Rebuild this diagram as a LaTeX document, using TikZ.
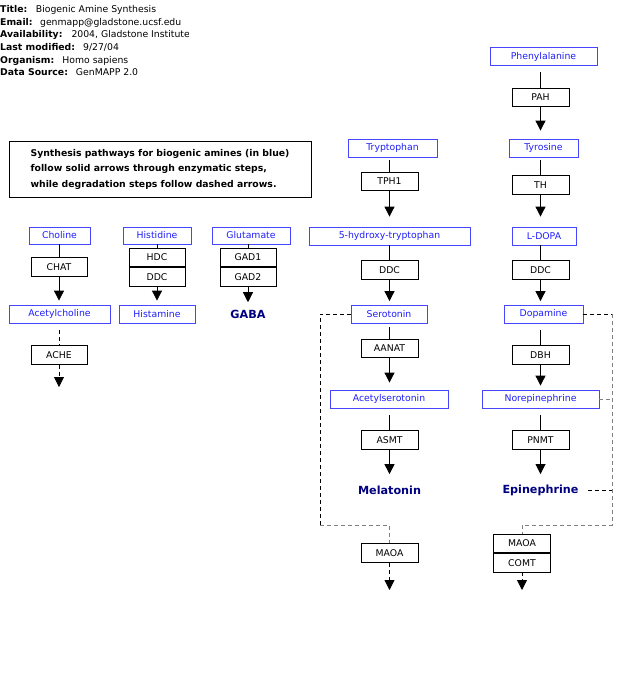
\documentclass[tikz,border=0pt]{standalone}
\usepackage{fontspec}
\setmainfont{DejaVu Sans}
\usepackage{xcolor}
\usetikzlibrary{arrows.meta,calc}
\definecolor{metblue}{RGB}{30,30,250}
\definecolor{metedge}{RGB}{70,70,255}
\definecolor{navylbl}{RGB}{0,0,128}

\begin{document}
\begin{tikzpicture}[
  x=1pt, y=-1pt,
  font=\fontsize{9.3}{11}\selectfont,
  metab/.style={draw=metedge, text=metblue, line width=0.8pt, inner sep=0pt, minimum height=18pt},
  gene/.style={draw, line width=0.8pt, inner sep=0pt, minimum width=57pt, minimum height=18.5pt},
  final/.style={text=navylbl, font=\bfseries\fontsize{11.2}{13}\selectfont},
  link/.style={line width=0.8pt},
  arrow/.style={-{Triangle[width=10pt,length=10pt]}, line width=0.8pt},
  degr/.style={line width=0.8pt, dash pattern=on 4pt off 3pt}
]
\useasboundingbox (0,0) rectangle (626,697);

% header
\begin{scope}
\clip (0,0) rectangle (188,85);
\node[anchor=north west, inner sep=0pt, align=left, font=\fontsize{9.3}{12.6}\selectfont] (meta) at (0,5.5)
  {\textbf{Title:}\hspace{8.5pt}Biogenic Amine Synthesis\\
   \textbf{Email:}\hspace{7.5pt}genmapp@gladstone.ucsf.edu\\
   \textbf{Availability:}\hspace{9pt}2004, Gladstone Institute\\
   \textbf{Last modified:}\hspace{8pt}9/27/04\\
   \textbf{Organism:}\hspace{8pt}Homo sapiens\\
   \textbf{Data Source:}\hspace{8pt}GenMAPP 2.0};
\end{scope}

\node[draw, line width=0.8pt, minimum width=302pt, minimum height=56pt, align=left,
  font=\bfseries\fontsize{9.3}{15.5}\selectfont] (note) at (160,169)
  {Synthesis pathways for biogenic amines (in blue)\\
   follow solid arrows through enzymatic steps,\\
   while degradation steps follow dashed arrows.};

% catecholamines
\node[metab, minimum width=107pt] (phe) at (543.5,56.5) {Phenylalanine};
\node[gene] (pah) at (540.5,97.5) {PAH};
\node[metab, minimum width=69pt] (tyr) at (543.5,148) {Tyrosine};
\node[gene] (th) at (540.5,185) {TH};
\node[metab, minimum width=64pt] (ldopa) at (544,236) {L-DOPA};
\node[gene] (ddcb) at (540.5,270) {DDC};
\node[metab, minimum width=79pt] (dopa) at (543.5,314) {Dopamine};
\node[gene] (dbh) at (540.5,355) {DBH};
\node[metab, minimum width=117pt] (nore) at (540.5,399) {Norepinephrine};
\node[gene] (pnmt) at (540.5,440) {PNMT};
\node[final] (epi) at (540.5,490) {Epinephrine};
\node[gene] (maoab) at (522,543.5) {MAOA};
\node[gene, anchor=north] (comt) at (maoab.south) {COMT};

% indolamines
\node[metab, minimum width=89pt] (trp) at (392.5,148) {Tryptophan};
\node[gene] (tph) at (389.5,181.5) {TPH1};
\node[metab, minimum width=161pt] (htp) at (389.5,236) {5-hydroxy-tryptophan};
\node[gene] (ddca) at (389.5,270) {DDC};
\node[metab, minimum width=76pt] (sero) at (389,314) {Serotonin};
\node[gene] (aanat) at (389.5,348.5) {AANAT};
\node[metab, minimum width=118pt] (acser) at (389,399) {Acetylserotonin};
\node[gene] (asmt) at (389.5,440) {ASMT};
\node[final] (mel) at (389.5,490) {Melatonin};
\node[gene] (maoaa) at (389.5,553) {MAOA};

% choline, histidine, glutamate
\node[metab, minimum width=61pt, minimum height=17pt] (cho) at (59.5,235.5) {Choline};
\node[gene, minimum width=56pt] (chat) at (59,267) {CHAT};
\node[metab, minimum width=101pt] (ach) at (59.5,314) {Acetylcholine};
\node[gene, minimum width=56pt] (ache) at (59,355) {ACHE};
\node[metab, minimum width=68pt, minimum height=17pt] (his) at (157,235.5) {Histidine};
\node[gene, minimum width=56pt] (hdc) at (157,257.5) {HDC};
\node[gene, minimum width=56pt, anchor=north] (ddch) at (hdc.south) {DDC};
\node[metab, minimum width=76pt] (hista) at (157,314) {Histamine};
\node[metab, minimum width=78pt, minimum height=17pt] (glu) at (251,235.5) {Glutamate};
\node[gene, minimum width=56pt] (gad1) at (248,257.5) {GAD1};
\node[gene, minimum width=56pt, anchor=north] (gad2) at (gad1.south) {GAD2};
\node[final] (gaba) at (248,314) {GABA};

% synthesis steps
\foreach \m/\g/\s in {phe/pah/6pt, tyr/th/3pt, ldopa/ddcb/0pt, dopa/dbh/7pt, nore/pnmt/7pt,
    trp/tph/3pt, htp/ddca/0pt, sero/aanat/4pt, acser/asmt/7pt, cho/chat/0pt, his/hdc/0pt, glu/gad1/0pt}
  \draw[link, shorten <=\s] (\m.south -| \g) -- (\g);
\foreach \g/\m/\s in {pah/tyr/8pt, th/ldopa/10pt, ddcb/dopa/3.5pt, dbh/nore/4pt, pnmt/epi/7pt,
    tph/htp/10pt, ddca/sero/3.5pt, aanat/acser/7pt, asmt/mel/8pt, chat/ach/4pt, ddch/hista/4pt, gad2/gaba/4pt}
  \draw[arrow, shorten >=\s] (\g) -- (\g |- \m.north);

% degradation steps
\coordinate (achex) at (59,387);
\coordinate (maoaax) at (389.5,590);
\coordinate (comtx) at (522,590);
\coordinate (sl1) at (320,314);
\coordinate (sl2) at (320,525);
\coordinate (dr1) at (612,314);
\coordinate (dr2) at (612,399);
\coordinate (dr3) at (612,490);
\coordinate (dr4) at (612,525);

\draw[degr, shorten <=7pt] (ach.south -| ache) -- (ache);
\draw[degr, arrow] (ache) -- (achex);
\draw[degr] (sero.west) -- (sl1) -- (sl2);
\draw[degr, gray] (sl2) -| (maoaa.north);
\draw[degr, arrow] (maoaa) -- (maoaax);
\draw[degr] (dopa.east) -- (dr1);
\draw[degr, gray] (dr1) -- (dr4) -| (maoab.north);
\draw[degr, gray] (nore.east) -- (dr2);
\draw[degr, shorten <=6pt] (epi.east) -- (dr3);
\draw[degr, arrow] (comt) -- (comtx);
\end{tikzpicture}
\end{document}
